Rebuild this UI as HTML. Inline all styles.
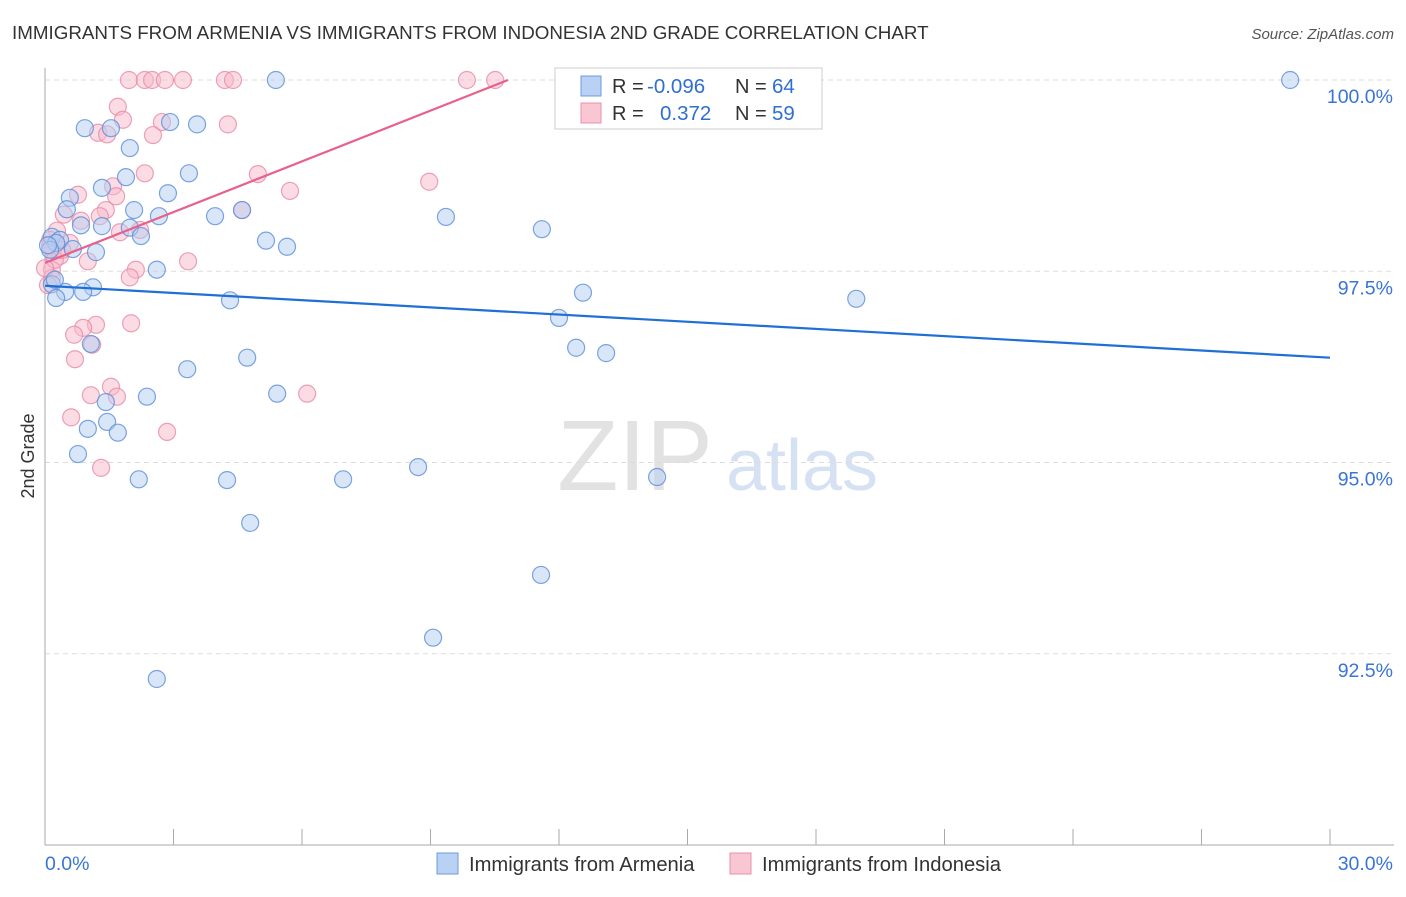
<!DOCTYPE html>
<html><head><meta charset="utf-8"><style>
body{margin:0;background:#fff;font-family:"Liberation Sans",sans-serif;}
svg text{font-family:"Liberation Sans",sans-serif;}
</style></head><body>
<svg id="chart" width="1406" height="892" viewBox="0 0 1406 892" xmlns="http://www.w3.org/2000/svg">
<text x="12" y="39" font-size="18.8" fill="#333">IMMIGRANTS FROM ARMENIA VS IMMIGRANTS FROM INDONESIA 2ND GRADE CORRELATION CHART</text>
<text x="1394" y="39" font-size="15" fill="#555" text-anchor="end" font-style="italic">Source: ZipAtlas.com</text>
<g>
<text x="635" y="490" font-size="100" fill="#e2e2e2" text-anchor="middle" font-family="Liberation Serif">ZIP</text>
<text x="802" y="490" font-size="72" fill="#d6e2f3" text-anchor="middle">atlas</text>
</g>
<g id="grid"></g>
<g id="axes"></g>
<g id="marks"></g>
<text transform="translate(34,456) rotate(-90)" font-size="18" fill="#333" text-anchor="middle">2nd Grade</text>
<g>
<rect x="555" y="68" width="267" height="61" fill="#fff" stroke="#ccc"/>
<rect x="581" y="76" width="20" height="20" fill="#b9d2f3" stroke="#6a9be0"/>
<text x="612" y="93" font-size="20" fill="#333">R = </text><text x="647" y="93" font-size="20.5" fill="#2f6fd1">-0.096</text>
<text x="735" y="93" font-size="20" fill="#333">N = </text><text x="772" y="93" font-size="20.5" fill="#2f6fd1">64</text>
<rect x="581" y="103" width="20" height="20" fill="#f9c6d4" stroke="#e890aa"/>
<text x="612" y="120" font-size="20" fill="#333">R = </text><text x="660" y="120" font-size="20.5" fill="#2f6fd1">0.372</text>
<text x="735" y="120" font-size="20" fill="#333">N = </text><text x="772" y="120" font-size="20.5" fill="#2f6fd1">59</text>
</g>
<g>
<rect x="437" y="853" width="21" height="21" fill="#b9d2f3" stroke="#6a9be0"/>
<text x="469" y="871" font-size="20.2" fill="#333">Immigrants from Armenia</text>
<rect x="730" y="853" width="21" height="21" fill="#f9c6d4" stroke="#e890aa"/>
<text x="762" y="871" font-size="20.2" fill="#333">Immigrants from Indonesia</text>
</g>
</svg>
<script>
const xTicks=[0,3,6,9,12,15,18,21,24,27,30];
const yTicks=[92.5,95,97.5,100];
const yTickLabels=["92.5%","95.0%","97.5%","100.0%"];
const armeniaX=[5.39,29.07,0.93,1.54,2.92,3.55,1.98,3.36,1.89,1.33,2.87,0.58,0.51,2.08,2.66,3.97,9.36,4.60,0.84,1.33,1.98,2.24,11.60,0.16,0.35,0.26,5.16,5.65,0.65,1.19,0.12,2.61,0.16,1.12,0.47,0.26,0.89,4.32,12.56,18.94,12.00,1.07,12.40,13.10,4.72,3.32,5.42,2.38,1.42,1.45,1.00,1.70,0.77,8.71,2.19,4.25,6.96,14.29,4.79,11.58,9.06,2.61,0.07,0.23];
const armeniaY=[100,100,99.37,99.37,99.45,99.42,99.11,98.78,98.73,98.59,98.52,98.46,98.31,98.30,98.22,98.22,98.21,98.30,98.10,98.09,98.07,97.96,98.05,97.95,97.91,97.87,97.90,97.82,97.79,97.75,97.78,97.52,97.33,97.29,97.23,97.15,97.23,97.12,97.22,97.14,96.89,96.55,96.50,96.43,96.37,96.22,95.90,95.86,95.79,95.53,95.44,95.39,95.11,94.94,94.78,94.77,94.78,94.81,94.21,93.53,92.71,92.17,97.84,97.39];
const indonesiaX=[1.96,2.33,2.50,2.80,3.22,4.20,4.39,9.85,10.51,1.70,1.82,2.73,1.24,1.45,2.52,4.27,2.33,4.97,8.97,5.72,1.59,0.77,1.66,1.42,4.60,0.44,1.28,0.84,2.22,1.75,0.28,0.12,0.58,0.19,0.35,1.00,3.34,2.12,1.98,0.16,0.16,0.07,2.01,1.19,0.89,0.68,1.10,0.70,1.54,1.07,1.68,6.12,0.61,2.85,1.31,0.12,0.23,0.40,0];
const indonesiaY=[100,100,100,100,100,100,100,100,100,99.65,99.48,99.45,99.31,99.29,99.28,99.42,98.78,98.77,98.67,98.55,98.61,98.50,98.48,98.30,98.30,98.24,98.22,98.16,98.04,98.01,98.03,97.91,97.87,97.78,97.70,97.63,97.63,97.52,97.42,97.52,97.41,97.32,96.82,96.80,96.76,96.67,96.54,96.35,95.99,95.88,95.86,95.90,95.59,95.40,94.93,97.84,97.65,97.78,97.54];
const armeniaTrend=[[0,97.31],[30,96.37]];
const indonesiaTrend=[[0,97.61],[10.81,100]];
const NS='http://www.w3.org/2000/svg';
const X0=45,X1=1330,Y0=845,Y1=80;
function sx(v){return X0+(v/30)*(X1-X0);}
function sy(v){return Y0-((v-90)/10)*(Y0-Y1);}
function mk(tag,attrs,parent){const e=document.createElementNS(NS,tag);for(const k in attrs)e.setAttribute(k,attrs[k]);parent.appendChild(e);return e;}
const grid=document.getElementById('grid'),axes=document.getElementById('axes'),marks=document.getElementById('marks');
yTicks.forEach((t,i)=>{
 const l=mk('line',{x1:X0,x2:1394,y1:sy(t),y2:sy(t),stroke:'#ddd','stroke-dasharray':'5,4'},grid);
 
 
 const tx=mk('text',{x:1393,y:sy(t)+23,'font-size':19.5,fill:'#3a75d4','text-anchor':'end'},axes);
 tx.textContent=yTickLabels[i];
 
 
});
const ya=mk('line',{x1:X0,x2:X0,y1:68,y2:Y0,stroke:'#aaa'},axes);


const xa=mk('line',{x1:X0,x2:1394,y1:Y0,y2:Y0,stroke:'#aaa'},axes);


xTicks.forEach(t=>{
 const l=mk('line',{x1:sx(t),x2:sx(t),y1:829,y2:Y0,stroke:'#aaa'},axes);
 
 
});
[[0,'0.0%','start',45],[30,'30.0%','end',1393]].forEach(a=>{
 const tx=mk('text',{x:a[3],y:870,'font-size':19.5,fill:'#3a75d4','text-anchor':a[2]},axes);
 tx.textContent=a[1];
 
 
});
function pts(xs,ys,fill,stroke,name){
 xs.forEach((v,i)=>{
  const c=mk('circle',{cx:sx(v),cy:sy(ys[i]),r:8.5,fill:fill,'fill-opacity':0.5,stroke:stroke,'stroke-width':1.2,'stroke-opacity':0.8},marks);
  
  
 });
}
pts(indonesiaX,indonesiaY,'#f7b9cb','#e88aa6','indonesia-point');
pts(armeniaX,armeniaY,'#b3cef2','#5b8fd8','armenia-point');
const bl=mk('line',{x1:sx(armeniaTrend[0][0]),y1:sy(armeniaTrend[0][1]),x2:sx(armeniaTrend[1][0]),y2:sy(armeniaTrend[1][1]),stroke:'#1f6fd6','stroke-width':2.2},marks);


const pl=mk('line',{x1:sx(indonesiaTrend[0][0]),y1:sy(indonesiaTrend[0][1]),x2:sx(indonesiaTrend[1][0]),y2:sy(indonesiaTrend[1][1]),stroke:'#e8608c','stroke-width':2.2},marks);


</script>
</body></html>
